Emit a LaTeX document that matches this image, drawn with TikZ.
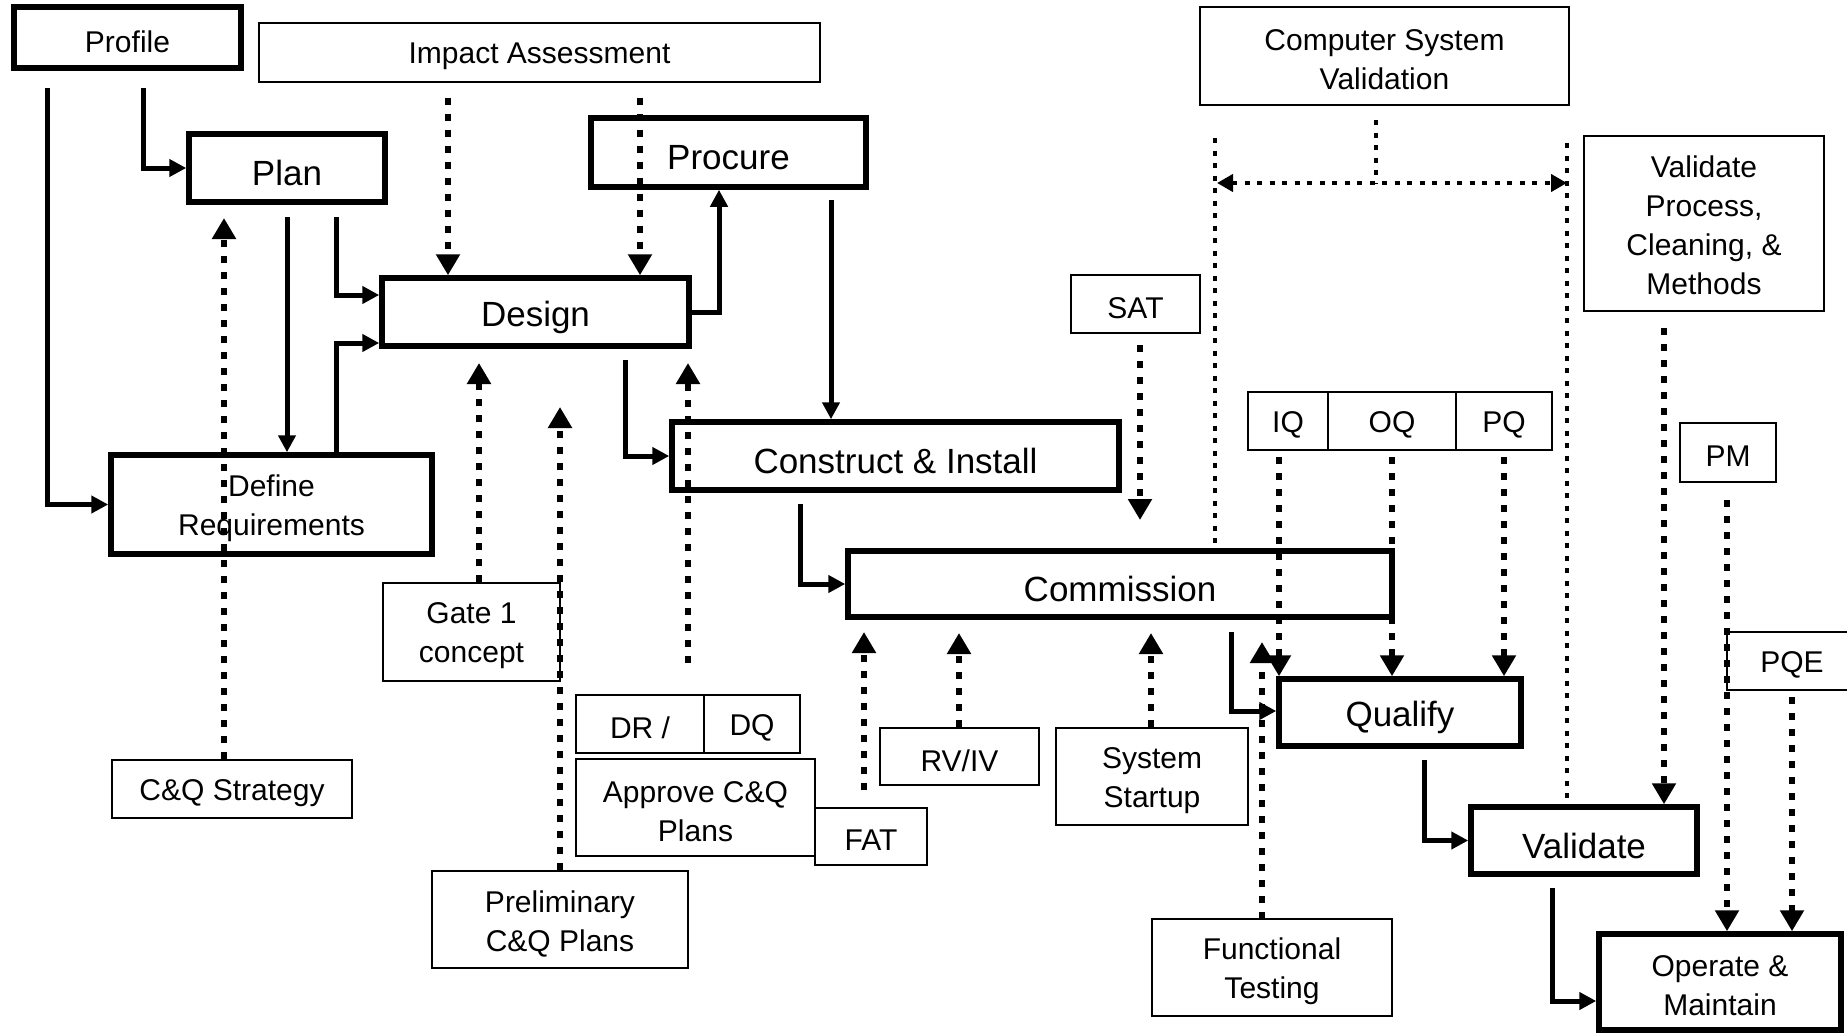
\documentclass[tikz,border=0pt]{standalone}
\usepackage{fontspec}
\setmainfont{Liberation Sans}
\usetikzlibrary{arrows.meta}
\begin{document}
\begin{tikzpicture}[x=1pt,y=-1pt,
  thk/.style={draw, line width=5.5pt, inner sep=0pt},
  thn/.style={draw, line width=2pt, inner sep=0pt},
  big/.style={font=\fontsize{35}{40}\selectfont, align=center, inner sep=0pt, yshift=-5pt},
  sml/.style={font=\fontsize{30}{39}\selectfont, align=center, inner sep=0pt, yshift=-4pt},
  conn/.style={line width=5pt, -{Triangle[length=17pt,width=17pt]}},
  dconn/.style={line width=6pt, dash pattern=on 7pt off 9pt, -{Triangle[length=21pt,width=23pt]}},
  csvline/.style={line width=4.5pt, dash pattern=on 5pt off 7.5pt}
]
\useasboundingbox (0,0) rectangle (1847,1033);

% main process boxes
\node[thk,minimum width=227pt,minimum height=61pt,label={[sml]center:Profile}] (prof) at (127.5,37.5) {};
\node[thk,minimum width=196pt,minimum height=68pt,label={[big]center:Plan}] (plan) at (287,168) {};
\node[thk,minimum width=275pt,minimum height=69pt,label={[big]center:Procure}] (proc) at (728.5,152.5) {};
\node[thk,minimum width=307pt,minimum height=68pt,label={[big]center:Design}] (des) at (535.5,312) {};
\node[thk,minimum width=321pt,minimum height=99pt,label={[sml]center:Define\\Requirements}] (dr) at (271.5,504.5) {};
\node[thk,minimum width=447pt,minimum height=68pt,label={[big]center:Construct \& Install}] (cons) at (895.5,456) {};
\node[thk,minimum width=544pt,minimum height=66pt,label={[big]center:Commission}] (comm) at (1120,584) {};
\node[thk,minimum width=242pt,minimum height=67pt,label={[big]center:Qualify}] (qual) at (1400,712.5) {};
\node[thk,minimum width=226pt,minimum height=67pt,label={[big]center:Validate}] (val) at (1584,840.5) {};
\node[thk,minimum width=242pt,minimum height=96pt,label={[sml]center:Operate \&\\Maintain}] (op) at (1720,982) {};

% input boxes
\node[thn,minimum width=561pt,minimum height=59pt,label={[sml]center:Impact Assessment}] (ia) at (539.5,52.5) {};
\node[thn,minimum width=369pt,minimum height=98pt,label={[sml]center:Computer System\\Validation}] (csv) at (1384.5,56) {};
\node[thn,minimum width=240pt,minimum height=175pt,label={[sml,yshift=2pt]center:Validate\\Process,\\Cleaning, \&\\Methods}] (vpcm) at (1704,223.5) {};
\node[thn,minimum width=129pt,minimum height=58pt,label={[sml]center:SAT}] (sat) at (1135.5,304) {};
\node[thn,minimum width=80pt,minimum height=58pt,label={[sml]center:IQ}] (iq) at (1288,421) {};
\node[thn,minimum width=128pt,minimum height=58pt,label={[sml]center:OQ}] (oq) at (1392,421) {};
\node[thn,minimum width=96pt,minimum height=58pt,label={[sml]center:PQ}] (pq) at (1504,421) {};
\node[thn,minimum width=96pt,minimum height=59pt,label={[sml]center:PM}] (pm) at (1728,452.5) {};
\node[thn,minimum width=130pt,minimum height=58pt,label={[sml]center:PQE}] (pqe) at (1792,661) {};
\node[thn,minimum width=177pt,minimum height=98pt,label={[sml]center:Gate 1\\concept}] (gate) at (471.5,632) {};
\node[thn,minimum width=240pt,minimum height=58pt,label={[sml]center:C\&Q Strategy}] (cqs) at (232,789) {};
\node[thn,minimum width=128pt,minimum height=58pt,label={[sml]center:DR /}] (drb) at (640,724) {};
\node[thn,minimum width=96pt,minimum height=58pt,label={[sml]center:DQ}] (dq) at (752,724) {};
\node[thn,minimum width=239pt,minimum height=97pt,label={[sml]center:Approve C\&Q\\Plans}] (appr) at (695.5,807.5) {};
\node[thn,minimum width=112pt,minimum height=57pt,label={[sml]center:FAT}] (fat) at (871,836.5) {};
\node[thn,minimum width=159pt,minimum height=57pt,label={[sml]center:RV/IV}] (rv) at (959.5,756.5) {};
\node[thn,minimum width=192pt,minimum height=97pt,label={[sml]center:System\\Startup}] (ss) at (1152,776.5) {};
\node[thn,minimum width=256pt,minimum height=97pt,label={[sml]center:Preliminary\\C\&Q Plans}] (prel) at (560,919.5) {};
\node[thn,minimum width=240pt,minimum height=97pt,label={[sml]center:Functional\\Testing}] (ft) at (1272,967.5) {};

% free-end coordinates
\coordinate (s1) at (47,88);
\coordinate (s2) at (143.5,88);
\coordinate (s3) at (287,217);
\coordinate (s4) at (336,217);
\coordinate (s5) at (625,360);
\coordinate (s6) at (831,200);
\coordinate (s7) at (800,504);
\coordinate (s8) at (1231,632);
\coordinate (s9) at (1424,760);
\coordinate (s10) at (1552,888);

% solid flow connectors
\draw[conn] (s1) |- (dr.west);
\draw[conn] (s2) |- (plan.west);
\draw[conn] (s3) -- (s3 |- dr.north);
\draw[conn] (s4) |- ([yshift=17pt]des.west);
\draw[conn] (dr.north -| s4) |- ([yshift=-31pt]des.west);
\draw[conn] (des.east) -| ([xshift=-9.5pt]proc.south);
\draw[conn] (s5) |- (cons.west);
\draw[conn] (s6) -- (s6 |- cons.north);
\draw[conn] (s7) |- (comm.west);
\draw[conn] (s8) |- ([yshift=1.5pt]qual.west);
\draw[conn] (s9) |- (val.west);
\draw[conn] (s10) |- ([yshift=-19pt]op.west);

% dotted inputs
\coordinate (d1) at (448,98);
\coordinate (d2) at (640,98);
\coordinate (t3) at (224,218);
\coordinate (t4) at (479,363);
\coordinate (t5) at (560,407);
\coordinate (d6) at (688,663);
\coordinate (t6) at (688,363);
\coordinate (d7) at (864,790);
\coordinate (t7) at (864,632);
\coordinate (t8) at (959,633);
\coordinate (t9) at (1151,633);
\coordinate (d10) at (1262,919);
\coordinate (t10) at (1262,642);
\coordinate (d11) at (1140,345);
\coordinate (t11) at (1140,520);
\coordinate (d12) at (1279,457);
\coordinate (d13) at (1392,457);
\coordinate (d14) at (1504,457);
\coordinate (d15) at (1664,328);
\coordinate (d16) at (1727,500);
\coordinate (d17) at (1792,697);

\draw[dconn] (d1) -- (d1 |- des.north);
\draw[dconn] (d2) -- (d2 |- des.north);
\draw[dconn] (t3 |- cqs.north) -- (t3);
\draw[dconn] (t4 |- gate.north) -- (t4);
\draw[dconn] (prel.north) -- (t5);
\draw[dconn] (d6) -- (t6);
\draw[dconn] (d7) -- (t7);
\draw[dconn] (rv.north -| t8) -- (t8);
\draw[dconn] (ss.north -| t9) -- (t9);
\draw[dconn] (d10) -- (t10);
\draw[dconn] (d11) -- (t11);
\draw[dconn] (d12) -- (d12 |- qual.north);
\draw[dconn] (d13) -- (d13 |- qual.north);
\draw[dconn] (d14) -- (d14 |- qual.north);
\draw[dconn] (d15) -- (d15 |- val.north);
\draw[dconn] (d16) -- (d16 |- op.north);
\draw[dconn] (d17) -- (d17 |- op.north);

% computer system validation span
\coordinate (c0) at (1376,120);
\coordinate (cl) at (1215,138);
\coordinate (cr) at (1567,143);
\draw[csvline] (c0) -- (1376,183);
\draw[csvline, {Triangle[length=16pt,width=17pt]}-{Triangle[length=16pt,width=17pt]}] (1217,183) -- (1567,183);
\draw[csvline] (cl) -- (cl |- comm.north);
\draw[csvline] (cr) -- (cr |- val.north);
\end{tikzpicture}
\end{document}
